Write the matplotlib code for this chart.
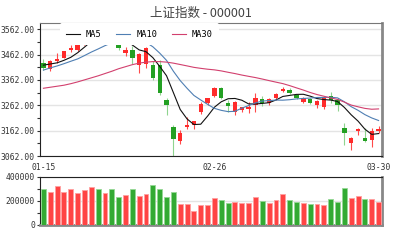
import numpy as np
import matplotlib.pyplot as plt

# SSE composite, 2018-01-15 .. 2018-03-30
dates = ['01-15', '01-16', '01-17', '01-18', '01-19', '01-22', '01-23', '01-24', '01-25', '01-26',
         '01-29', '01-30', '01-31', '02-01', '02-02', '02-05', '02-06', '02-07', '02-08', '02-09',
         '02-12', '02-13', '02-14', '02-22', '02-23', '02-26', '02-27', '02-28', '03-01', '03-02',
         '03-05', '03-06', '03-07', '03-08', '03-09', '03-12', '03-13', '03-14', '03-15', '03-16',
         '03-19', '03-20', '03-21', '03-22', '03-23', '03-26', '03-27', '03-28', '03-29', '03-30']
opens = [3428.9, 3405.0, 3437.0, 3449.0, 3478.0, 3478.0, 3505.0, 3547.0, 3550.0, 3548.0,
         3563.6, 3511.0, 3466.0, 3478.0, 3419.0, 3426.0, 3419.0, 3420.0, 3283.0, 3176.0,
         3122.0, 3175.0, 3183.0, 3237.0, 3270.0, 3300.0, 3329.0, 3269.0, 3236.0, 3243.0,
         3248.0, 3263.0, 3288.0, 3272.0, 3290.0, 3319.0, 3323.0, 3302.0, 3276.0, 3285.0,
         3262.0, 3257.0, 3297.0, 3281.0, 3171.0, 3114.0, 3160.0, 3134.0, 3125.0, 3162.0]
highs = [3442.5, 3438.6, 3466.0, 3477.0, 3498.0, 3503.0, 3546.5, 3562.0, 3565.0, 3562.0,
         3587.0, 3524.0, 3492.0, 3495.0, 3469.0, 3490.0, 3435.0, 3440.0, 3292.0, 3183.0,
         3165.0, 3216.0, 3200.0, 3273.0, 3292.0, 3335.0, 3333.0, 3282.0, 3280.0, 3256.0,
         3276.0, 3309.0, 3300.0, 3289.0, 3310.0, 3335.0, 3329.0, 3308.0, 3293.0, 3292.0,
         3281.0, 3292.0, 3316.0, 3289.0, 3191.0, 3138.0, 3173.0, 3171.0, 3171.0, 3180.0]
lows = [3402.6, 3396.0, 3430.0, 3448.0, 3470.0, 3475.0, 3498.0, 3540.0, 3531.0, 3535.0,
        3510.3, 3480.0, 3458.0, 3424.0, 3388.0, 3409.0, 3360.0, 3304.0, 3224.0, 3062.7,
        3110.0, 3170.0, 3170.0, 3229.0, 3262.0, 3295.0, 3285.0, 3236.0, 3223.0, 3237.0,
        3233.0, 3236.0, 3258.0, 3262.0, 3284.0, 3315.0, 3308.0, 3285.0, 3270.0, 3266.0,
        3250.0, 3248.0, 3270.0, 3241.0, 3105.0, 3086.0, 3145.0, 3119.0, 3099.0, 3152.0]
closes = [3410.49, 3436.59, 3444.67, 3474.75, 3487.86, 3501.36, 3546.50, 3559.47, 3548.31, 3558.13,
          3523.00, 3488.01, 3480.83, 3446.98, 3462.08, 3487.50, 3370.65, 3309.26, 3262.05, 3129.85,
          3154.13, 3184.96, 3199.16, 3268.56, 3289.02, 3329.57, 3292.07, 3259.41, 3273.76, 3254.53,
          3256.93, 3289.64, 3271.67, 3288.41, 3307.17, 3326.70, 3310.24, 3291.38, 3291.11, 3269.88,
          3279.25, 3290.64, 3280.95, 3263.48, 3152.76, 3133.72, 3166.65, 3122.29, 3160.53, 3168.90]
ma5 = [3420.1, 3424.6, 3429.2, 3439.1, 3450.9, 3469.0, 3491.0, 3514.0, 3528.7, 3542.8,
       3547.1, 3535.4, 3519.7, 3499.4, 3480.2, 3473.1, 3449.6, 3415.3, 3378.3, 3311.9,
       3245.2, 3208.1, 3186.0, 3187.3, 3219.2, 3254.3, 3275.7, 3287.7, 3288.8, 3281.9,
       3267.3, 3266.9, 3269.3, 3272.2, 3282.8, 3296.7, 3300.8, 3304.8, 3305.3, 3297.9,
       3288.4, 3284.5, 3282.4, 3276.8, 3253.4, 3224.3, 3199.5, 3167.8, 3147.2, 3150.4]
ma10 = [3400.5, 3409.3, 3416.9, 3425.8, 3435.4, 3444.6, 3457.8, 3471.6, 3483.9, 3496.9,
        3508.1, 3513.2, 3516.9, 3514.1, 3511.5, 3510.1, 3492.5, 3467.5, 3438.9, 3396.1,
        3359.2, 3328.9, 3300.7, 3282.8, 3265.6, 3249.8, 3241.9, 3236.9, 3238.1, 3250.6,
        3260.8, 3271.3, 3278.5, 3280.5, 3282.4, 3282.0, 3283.9, 3287.1, 3288.8, 3290.4,
        3292.6, 3292.7, 3293.6, 3291.1, 3275.7, 3256.4, 3242.0, 3225.1, 3212.0, 3201.9]
ma30 = [3329.0, 3333.0, 3337.0, 3341.0, 3347.0, 3354.0, 3362.0, 3370.0, 3378.0, 3387.0,
        3396.0, 3406.0, 3414.0, 3422.0, 3428.0, 3432.0, 3434.0, 3434.0, 3432.0, 3428.0,
        3422.6, 3417.1, 3411.4, 3407.5, 3404.1, 3401.5, 3397.4, 3392.0, 3386.9, 3381.1,
        3376.0, 3371.1, 3365.3, 3359.1, 3353.1, 3347.3, 3339.4, 3330.5, 3321.9, 3312.3,
        3304.2, 3297.6, 3290.9, 3284.8, 3274.5, 3262.7, 3255.9, 3249.7, 3246.3, 3247.6]
volumes = [294000, 272000, 320000, 272000, 300000, 267000, 286000, 314000, 294000, 261000,
           294000, 228000, 244000, 300000, 239000, 253000, 328000, 300000, 228000, 272000,
           172000, 172000, 111000, 161000, 161000, 222000, 206000, 181000, 189000, 181000,
           181000, 231000, 200000, 181000, 206000, 256000, 206000, 189000, 181000, 172000,
           175000, 167000, 214000, 189000, 303000, 222000, 236000, 214000, 214000, 189000]
price_ticks = [3062, 3162, 3262, 3362, 3462, 3562]
vol_ticks = [0, 200000, 400000]
label_idx = [0, 25, 49]

RED = '#ff2b2b'
GREEN = '#23a023'
MONO = 'DejaVu Sans Mono'
FS = 5.8

o = np.array(opens); c = np.array(closes)
x = np.arange(len(dates))
up = c >= o
cols = np.where(up, RED, GREEN)
wick_cols = np.where(up, '#ff4a4a', '#8fd48f')

fig = plt.figure(figsize=(4, 2.4), dpi=100)
ax = fig.add_axes([0.1, 0.35, 0.855, 0.555])
axv = fig.add_axes([0.1, 0.064, 0.855, 0.2])

# candles
ax.vlines(x, lows, highs, colors=wick_cols, linewidth=0.8, zorder=2)
body = np.maximum(np.abs(c - o), 2.5)
ax.bar(x, body, bottom=np.minimum(o, c), width=0.64, color=cols, linewidth=0, zorder=3)

ax.plot(x, ma5, color='#111111', lw=0.8, label='MA5', zorder=4)
ax.plot(x, ma10, color='#4f7fb3', lw=0.8, label='MA10', zorder=4)
ax.plot(x, ma30, color='#d2406e', lw=0.8, label='MA30', zorder=4)

ax.set_xlim(-0.5, len(dates) - 0.5)
ax.set_ylim(3062, 3587)
ax.set_yticks(price_ticks)
ax.set_yticks([t + 50 for t in price_ticks[:-1]], minor=True)
ax.set_yticklabels(['%.2f' % t for t in price_ticks])
ax.set_xticks(label_idx)
ax.set_xticklabels([dates[i] for i in label_idx])
ax.grid(axis='y', color='#e4e4e4', lw=1)
ax.set_axisbelow(True)

leg = ax.legend(loc='upper left', bbox_to_anchor=(0.058, 0.995), ncol=3, frameon=True,
                borderaxespad=0, borderpad=0.75, handlelength=1.6, handletextpad=0.7,
                columnspacing=1.7, prop={'family': MONO, 'size': 6.2})
leg.get_frame().set_facecolor('white')
leg.get_frame().set_edgecolor('none')
leg.get_frame().set_alpha(1)
leg.set_zorder(10)

# volume
vcols = np.where(up, '#ff4444', '#33aa33')
vedge = np.where(up, '#ffa0a0', '#95d895')
axv.bar(x, volumes, width=0.72, color=vcols, edgecolor=vedge, linewidth=0.6, zorder=3)
axv.set_xlim(-0.5, len(dates) - 0.5)
axv.set_ylim(0, 400000)
axv.set_yticks(vol_ticks)
axv.set_yticks([100000, 300000], minor=True)
axv.set_yticklabels([str(t) for t in vol_ticks])
axv.set_xticks([])
axv.grid(axis='y', color='#e4e4e4', lw=1)
axv.set_axisbelow(True)

for a in (ax, axv):
    a.tick_params(axis='y', which='major', length=2.5, width=0.8, color='#333333', pad=1,
                  labelsize=FS, labelcolor='#333333')
    a.tick_params(axis='y', which='minor', length=2, width=0.8, color='#333333')
    for lab in a.get_yticklabels():
        lab.set_family(MONO)
    a.spines['left'].set_color('#222222')
    a.spines['right'].set_color('#888888')
    a.spines['right'].set_linewidth(2)

ax.tick_params(axis='x', length=0, pad=5, labelsize=FS, labelcolor='#333333')
for lab in ax.get_xticklabels():
    lab.set_family(MONO)
ax.spines['bottom'].set_color('#222222')
ax.spines['top'].set_color('#777777')
axv.spines['top'].set_color('#222222')
axv.spines['bottom'].set_color('#888888')
axv.spines['bottom'].set_linewidth(2)

fig.text(0.502, 1 - 13 / 240, '上证指数 - 000001', ha='center', va='center', fontsize=9,
         color='#444444', family=['Noto Sans CJK SC', 'DejaVu Sans'])

fig.savefig('out.png', dpi=100)
